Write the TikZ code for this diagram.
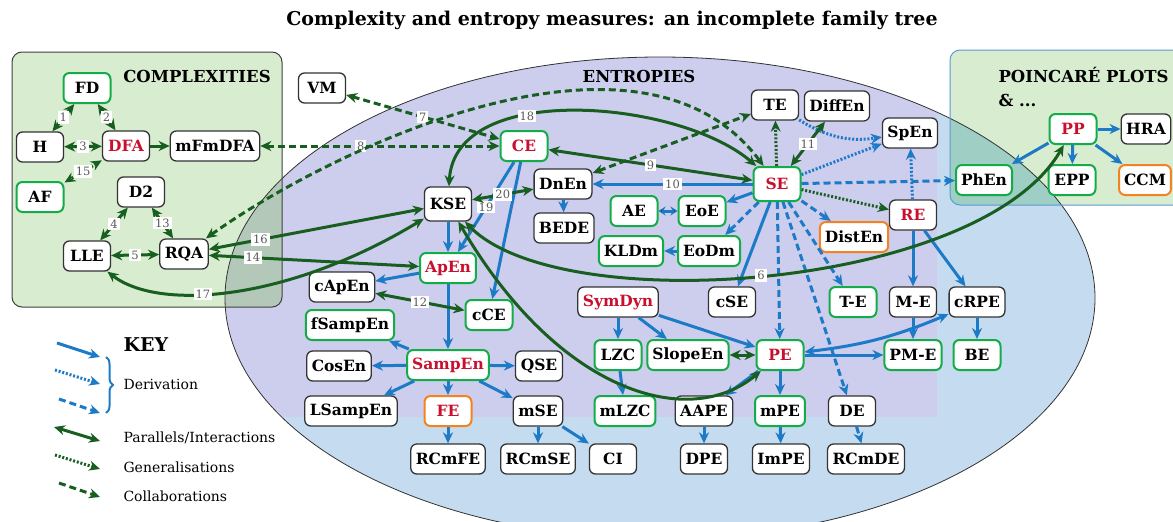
\documentclass[tikz,border=0pt]{standalone}
\usepackage{fontspec}
\setmainfont{DejaVu Serif}
\usetikzlibrary{arrows.meta,decorations.pathreplacing}
\definecolor{blu}{RGB}{28,122,198}
\definecolor{verdescuro}{RGB}{24,94,32}
\definecolor{verdebordo}{RGB}{20,172,72}
\definecolor{arancio}{RGB}{245,130,32}
\definecolor{rossoscuro}{RGB}{200,16,46}
\definecolor{lavanda}{RGB}{205,205,238}
\definecolor{celeste}{RGB}{197,220,240}
\definecolor{verdino}{RGB}{216,236,207}
\definecolor{misto}{RGB}{180,200,186}
\definecolor{acqua}{RGB}{158,206,196}
\definecolor{bordopp}{RGB}{90,155,212}
\tikzset{
>={Stealth[length=11pt,width=10pt]},
nodo/.style={draw=black!80,fill=white,rounded corners=6pt,line width=1.3pt,minimum width=47pt,minimum height=30pt,inner xsep=5pt,inner ysep=3pt,font=\fontsize{15.5}{17}\selectfont\bfseries},
nodo verde/.style={nodo,draw=verdebordo,line width=2pt},
nodo arancio/.style={nodo,draw=arancio,line width=2pt},
rosso/.style={text=rossoscuro},
deriva/.style={->,draw=blu,line width=3pt},
deriva punti/.style={deriva,dash pattern=on 2pt off 1.8pt},
deriva tratti/.style={deriva,dash pattern=on 7pt off 4pt},
paral/.style={<->,draw=verdescuro,line width=3pt},
gener/.style={->,draw=verdescuro,line width=3pt,dash pattern=on 2pt off 1.8pt},
collab/.style={->,draw=verdescuro,line width=3pt,dash pattern=on 7pt off 4pt},
etich/.style={fill=white,draw=none,inner sep=2pt,text=black!65,font=\fontsize{11.5}{12}\selectfont},
sezione/.style={font=\fontsize{16.5}{18}\selectfont\bfseries},
voce/.style={anchor=west,font=\fontsize{14}{16}\selectfont}}

\begin{document}
\begin{tikzpicture}[x=1pt,y=-1pt]

\useasboundingbox (0,0) rectangle (1173,522);

% sfondi
\fill[verdino,rounded corners=10pt] (12,52) rectangle (282,307);
\fill[verdino,rounded corners=10pt] (950,50) rectangle (1190,205);
\begin{scope}
  \clip (660,298) ellipse [x radius=435,y radius=241];
  \fill[celeste] (200,40) rectangle (1200,560);
  \fill[lavanda] (200,40) rectangle (937,417);
  \fill[misto,rounded corners=10pt] (12,52) rectangle (282,307);
  \fill[acqua,rounded corners=10pt] (950,50) rectangle (1190,205);
\end{scope}
\draw[black!80,line width=0.8pt] (660,298) ellipse [x radius=435,y radius=241];
\draw[black!75,line width=1pt,rounded corners=10pt] (12,52) rectangle (282,307);
\draw[bordopp,line width=1pt,rounded corners=10pt] (950,50) rectangle (1190,205);

\node[font=\fontsize{19}{21}\selectfont\bfseries] (titolo) at (612,20) {Complexity and entropy measures: an incomplete family tree};
\node[sezione] (tcompl) at (197,76) {COMPLEXITIES};
\node[sezione] (tentr) at (639,76) {ENTROPIES};
\node[sezione,anchor=west] (tpp) at (995,75) {POINCARÉ PLOTS};
\node[sezione,anchor=west] (tpp2) at (995,100) {\& ...};

% complessita
\node[nodo verde] (FD) at (87,88) {FD};
\node[nodo] (H) at (40,147) {H};
\node[nodo,rosso] (DFA) at (126,146) {DFA};
\node[nodo] (mFmDFA) at (215,146) {mFmDFA};
\node[nodo verde] (AF) at (40,197) {AF};
\node[nodo] (D2) at (141,192) {D2};
\node[nodo] (LLE) at (87,256) {LLE};
\node[nodo] (RQA) at (184,254) {RQA};

% entropie
\node[nodo] (VM) at (322,88) {VM};
\node[nodo verde,rosso] (CE) at (524,146) {CE};
\node[nodo,minimum height=34pt] (KSE) at (448,204) {KSE};
\node[nodo] (DnEn) at (563,184) {DnEn};
\node[nodo] (BEDE) at (564,228) {BEDE};
\node[nodo verde,rosso] (ApEn) at (448,268) {ApEn};
\node[nodo] (cApEn) at (342,287) {cApEn};
\node[nodo verde] (cCE) at (489,315) {cCE};
\node[nodo verde] (fSampEn) at (350,325) {fSampEn};
\node[nodo] (CosEn) at (339,366) {CosEn};
\node[nodo verde,rosso] (SampEn) at (448,365) {SampEn};
\node[nodo] (QSE) at (539,366) {QSE};
\node[nodo] (LSampEn) at (351,411) {LSampEn};
\node[nodo arancio,rosso] (FE) at (448,411) {FE};
\node[nodo] (mSE) at (538,411) {mSE};
\node[nodo] (RCmFE) at (448,459) {RCmFE};
\node[nodo] (RCmSE) at (538,459) {RCmSE};
\node[nodo] (CI) at (613,459) {CI};
\node[nodo,rosso] (SymDyn) at (618,302) {SymDyn};
\node[nodo verde] (LZC) at (618,355) {LZC};
\node[nodo verde] (SlopeEn) at (688,355) {SlopeEn};
\node[nodo verde,rosso] (PE) at (780,355) {PE};
\node[nodo verde] (mLZC) at (625,411) {mLZC};
\node[nodo] (AAPE) at (704,411) {AAPE};
\node[nodo verde] (mPE) at (780,411) {mPE};
\node[nodo] (DE) at (852,411) {DE};
\node[nodo] (DPE) at (704,459) {DPE};
\node[nodo] (ImPE) at (781,459) {ImPE};
\node[nodo] (RCmDE) at (866,459) {RCmDE};
\node[nodo] (cSE) at (732,302) {cSE};
\node[nodo verde] (TmE) at (853,302) {T-E};
\node[nodo] (ME) at (913,302) {M-E};
\node[nodo] (cRPE) at (977,302) {cRPE};
\node[nodo verde] (PME) at (913,355) {PM-E};
\node[nodo verde] (BE) at (977,355) {BE};
\node[nodo,rosso] (RE) at (913,215) {RE};
\node[nodo arancio] (DistEn) at (854,237) {DistEn};
\node[nodo verde,rosso,minimum height=34pt] (SE) at (777,184) {SE};
\node[nodo] (TE) at (775,105) {TE};
\node[nodo] (DiffEn) at (837,106) {DiffEn};
\node[nodo] (SpEn) at (910,133) {SpEn};
\node[nodo verde] (AE) at (634,211) {AE};
\node[nodo verde] (EoE) at (702,211) {EoE};
\node[nodo verde] (KLDm) at (631,251) {KLDm};
\node[nodo verde] (EoDm) at (709,251) {EoDm};

% poincare
\node[nodo verde,rosso] (PP) at (1073,129) {PP};
\node[nodo] (HRA) at (1146,129) {HRA};
\node[nodo verde] (PhEn) at (984,180) {PhEn};
\node[nodo verde] (EPP) at (1072,180) {EPP};
\node[nodo arancio] (CCM) at (1145,180) {CCM};

% derivazioni
\path[deriva] (CE) edge node[etich]{19} (ApEn)
  (CE) edge (cCE)
  (KSE) edge (ApEn)
  (ApEn) edge (cApEn) edge (SampEn)
  (SampEn) edge (fSampEn) edge (CosEn) edge (QSE) edge (LSampEn) edge (FE) edge (mSE)
  (FE) edge (RCmFE)
  (mSE) edge (RCmSE) edge (CI)
  (DnEn) edge (BEDE)
  (SE) edge node[etich]{10} (DnEn)
  (SE) edge (EoE) edge (cSE)
  (SymDyn) edge (LZC) edge (SlopeEn) edge (PE)
  (LZC) edge (mLZC)
  (PE) edge (PME) edge (AAPE) edge (mPE)
  (AAPE) edge (DPE)
  (mPE) edge (ImPE)
  (RE) edge (ME) edge (cRPE)
  (ME) edge (PME)
  (cRPE) edge (BE)
  (PP) edge (HRA) edge (EPP) edge (CCM) edge (PhEn);
\path[deriva,<->,>={Stealth[length=7pt,width=9pt]}] (AE) edge (EoE);
\path[deriva,<->] (PE) edge[bend right=8] (cRPE);
\path[deriva tratti] (SE) edge (PE) edge (DE) edge (TmE) edge (DistEn) edge (EoDm) edge (PhEn)
  (EoDm) edge (KLDm)
  (DE) edge (RCmDE);
\path[deriva punti] (SE) edge (SpEn)
  (TE) edge[bend right=20] (SpEn)
  (RE) edge (SpEn);

% paralleli, generalizzazioni, collaborazioni
\path[paral] (H) edge node[etich]{1} (FD)
  (FD) edge node[etich]{2} (DFA)
  (H) edge node[etich]{3} (DFA)
  (D2) edge node[etich]{4} (LLE)
  (LLE) edge node[etich]{5} (RQA)
  (D2) edge node[etich]{13} (RQA)
  (CE) edge node[etich]{9} (SE)
  (SE) edge node[etich]{11} (DiffEn)
  (KSE) edge node[etich]{20} (DnEn)
  (cApEn) edge node[etich]{12} (cCE)
  (RQA) edge node[etich,pos=.24]{16} (KSE)
  (RQA) edge node[etich,pos=.21]{14} (ApEn)
  (SlopeEn) edge (PE);
\path[paral,->] (DFA) edge (mFmDFA);
\draw[paral] (KSE) .. controls (455,80) and (680,100) .. node[etich,pos=.37]{18} (SE);
\draw[paral] (LLE) .. controls (160,312) and (290,300) .. node[etich,pos=.4]{17} (KSE);
\draw[paral] (KSE) .. controls (560,320) and (980,290) .. node[etich,pos=.49]{6} (PP);
\draw[paral] (KSE) .. controls (560,395) and (690,430) .. (PE);
\path[gener,<->] (DFA) edge node[etich]{15} (AF);
\path[gener] (SE) edge (TE) edge (RE);
\path[collab,<->] (VM) edge node[etich]{7} (CE)
  (mFmDFA) edge node[etich,pos=.42]{8} (CE)
  (DnEn) edge (TE);
\draw[collab,<->] (RQA) .. controls (330,150) and (640,0) .. (SE);

% legenda
\node[font=\fontsize{19}{21}\selectfont\bfseries] (key) at (146,345) {KEY};
\coordinate (ka1) at (57,343);  \coordinate (kb1) at (100,357);
\coordinate (ka2) at (55,370);  \coordinate (kb2) at (100,384);
\coordinate (ka3) at (59,399);  \coordinate (kb3) at (100,413);
\coordinate (ka4) at (54,427);  \coordinate (kb4) at (100,441);
\coordinate (ka5) at (55,455);  \coordinate (kb5) at (100,469);
\coordinate (ka6) at (59,483);  \coordinate (kb6) at (100,497);
\coordinate (kg1) at (106,357); \coordinate (kg2) at (106,413);
\draw[deriva] (ka1) -- (kb1);
\draw[deriva punti] (ka2) -- (kb2);
\draw[deriva tratti] (ka3) -- (kb3);
\draw[paral] (ka4) -- (kb4);
\draw[gener] (ka5) -- (kb5);
\draw[collab] (ka6) -- (kb6);
\draw[blu,line width=2pt,decorate,decoration={brace,amplitude=7pt}] (kg1) -- (kg2);
\node[voce] (vder) at (120,384) {Derivation};
\node[voce] (vpar) at (120,438) {Parallels/Interactions};
\node[voce] (vgen) at (120,467) {Generalisations};
\node[voce] (vcol) at (120,496) {Collaborations};
\end{tikzpicture}
\end{document}
